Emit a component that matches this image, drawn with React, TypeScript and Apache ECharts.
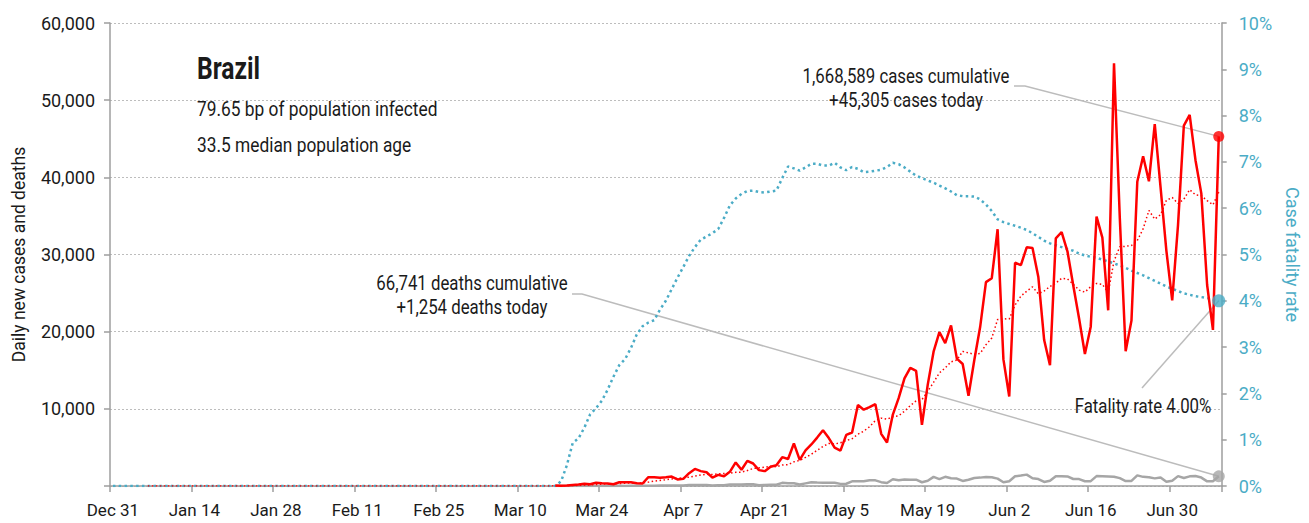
import React, { useEffect, useRef } from "react";
import * as echarts from "echarts";

// ---------- data ----------
const monthNames = ["Jan", "Feb", "Mar", "Apr", "May", "Jun", "Jul", "Aug", "Sep", "Oct", "Nov", "Dec"];
const firstDay = Date.UTC(2019, 11, 31);
const dayCount = 191; // Dec 31 .. Jul 8
const dates: string[] = [];
for (let i = 0; i < dayCount; i++) {
  const d = new Date(firstDay + i * 86400000);
  dates.push(`${monthNames[d.getUTCMonth()]} ${d.getUTCDate()}`);
}

const seriesStart = "Mar 16"; // first day of the arrays below
const avgStart = "Jan 6"; // first day of the 7-day average line

const dailyCases = [
  79, 34, 57, 137, 193, 283, 224,
  418, 345, 310, 232, 482, 502, 487,
  352, 323, 1138, 1119, 1074, 1146, 1222,
  852, 926, 1661, 2210, 1930, 1781, 1089,
  1442, 1261, 1832, 3058, 2105, 3257, 2917,
  2055, 1927, 2498, 2678, 3735, 3503, 5514,
  3379, 4613, 5385, 6276, 7218, 6209, 4970,
  4588, 6633, 6935, 10503, 9888, 10222, 10611,
  6760, 5632, 9258, 11385, 13944, 15305, 14919,
  7938, 13140, 17408, 19951, 18508, 20803, 16508,
  15813, 11687, 16324, 20599, 26417, 26928, 33274,
  16409, 11598, 28936, 28633, 30925, 30830, 27075,
  18912, 15654, 32091, 32913, 30412, 25982, 21704,
  17110, 20647, 34918, 32188, 22765, 54771, 34666,
  17459, 21432, 39436, 42725, 39483, 46907, 38693,
  30476, 24052, 33846, 46712, 48105, 42223, 37923,
  26051, 20229, 45305,
];

const cases7dAvg = [
  26, 30, 37, 54, 78, 115, 144,
  192, 237, 273, 286, 328, 359, 397,
  387, 384, 502, 629, 714, 806, 911,
  982, 1068, 1143, 1299, 1421, 1512, 1493,
  1577, 1625, 1649, 1770, 1795, 2006, 2267,
  2355, 2450, 2545, 2491, 2724, 2759, 3130,
  3319, 3703, 4115, 4629, 5127, 5513, 5436,
  5608, 5897, 6118, 6722, 7104, 7677, 8483,
  8793, 8650, 8982, 9108, 9687, 10414, 11029,
  11197, 12270, 13434, 14658, 15310, 16095, 16322,
  17447, 17240, 17085, 17177, 18307, 19182, 21577,
  21663, 21650, 23452, 24599, 25243, 25801, 24915,
  25273, 25852, 26303, 26914, 26841, 26148, 25381,
  25124, 25837, 26241, 26137, 25045, 29158, 31009,
  31059, 31171, 31817, 33322, 35710, 34587, 35162,
  37022, 37396, 36597, 37167, 38399, 37730, 37620,
  36987, 36441, 38078,
];

const dailyDeaths = [
  0, 0, 1, 2, 3, 5, 7,
  7, 9, 12, 11, 18, 15, 22,
  22, 23, 42, 40, 58, 60, 73,
  54, 67, 114, 133, 141, 115, 68,
  99, 105, 204, 204, 188, 217, 213,
  108, 125, 154, 165, 407, 357, 346,
  189, 338, 474, 449, 435, 428, 421,
  275, 296, 600, 615, 610, 751, 730,
  496, 396, 881, 749, 844, 824, 816,
  485, 674, 1179, 888, 1188, 1001, 965,
  653, 807, 1039, 1086, 1156, 1124, 956,
  480, 623, 1262, 1349, 1473, 1005, 904,
  525, 679, 1272, 1274, 1239, 909, 892,
  612, 627, 1282, 1269, 1238, 1206, 1022,
  641, 654, 1374, 1185, 1141, 990, 1109,
  552, 692, 1280, 1038, 1252, 1290, 1091,
  602, 620, 1254,
];

const cfrPct = [
  0.0, 0.1, 0.45, 0.93, 1.03, 1.26, 1.55,
  1.68, 1.84, 2.08, 2.36, 2.61, 2.74, 2.98,
  3.27, 3.45, 3.53, 3.58, 3.81, 4.0, 4.25,
  4.5, 4.73, 4.97, 5.16, 5.32, 5.39, 5.46,
  5.55, 5.79, 6.06, 6.21, 6.31, 6.37, 6.38,
  6.35, 6.34, 6.36, 6.38, 6.65, 6.9, 6.86,
  6.81, 6.88, 6.96, 6.96, 6.92, 6.92, 6.98,
  6.88, 6.82, 6.89, 6.85, 6.78, 6.79, 6.81,
  6.83, 6.89, 6.98, 6.95, 6.88, 6.79, 6.7,
  6.65, 6.6, 6.55, 6.49, 6.43, 6.36, 6.28,
  6.26, 6.26, 6.25, 6.19, 6.08, 5.94, 5.76,
  5.7, 5.66, 5.62, 5.58, 5.53, 5.46, 5.38,
  5.3, 5.24, 5.2, 5.16, 5.12, 5.08, 5.02,
  4.98, 4.95, 4.93, 4.89, 4.85, 4.81, 4.76,
  4.71, 4.65, 4.6, 4.55, 4.49, 4.43, 4.37,
  4.31, 4.26, 4.21, 4.16, 4.13, 4.1, 4.08,
  4.06, 4.03, 4.0,
];

const countryName = "Brazil";
const infectedBp = "79.65";
const medianAge = "33.5";
const totalCases = 1668589;
const totalDeaths = 66741;

// ---------- styling ----------
const FONT = "Roboto, 'Liberation Sans', sans-serif";
const RED = "#ff0000";
const BLUE = "#4bacc6";
const GRAY = "#a6a6a6";
const AXIS = "#9e9e9e";
const TEXT = "#1a1a1a";

const fmt = (v: number) => v.toLocaleString("en-US");

function pad(arr: number[], startLabel: string, fill: number | null, fillFrom = 0) {
  const s = dates.indexOf(startLabel);
  return dates.map((_, i) => (i >= s ? arr[i - s] : i >= fillFrom ? fill : null));
}

export default function App() {
  const ref = useRef<HTMLDivElement>(null);

  useEffect(() => {
    if (!ref.current) return;
    const chart = echarts.init(ref.current, null, { renderer: "svg" });
    const last = dates.length - 1;
    const casesFull = pad(dailyCases, seriesStart, null);
    const deathsFull = pad(dailyDeaths, seriesStart, null);
    const cfrFull = pad(cfrPct, seriesStart, 0);
    const avgFull = pad(cases7dAvg, seriesStart, 0, dates.indexOf(avgStart));

    const lastPoint = (arr: (number | null)[]) => dates.map((_, i) => (i === last ? arr[i] : null));

    chart.setOption({
      animation: false,
      textStyle: { fontFamily: FONT },
      grid: { left: 110, right: 87, top: 23, bottom: 37 },
      xAxis: {
        type: "category",
        data: dates,
        boundaryGap: true,
        axisLine: { show: true, lineStyle: { color: AXIS, width: 1.5 } },
        axisTick: { show: true, interval: 13, length: 6, lineStyle: { color: AXIS, width: 1.5 } },
        axisLabel: { interval: 13, color: TEXT, fontSize: 17, margin: 15, fontFamily: FONT },
        splitLine: { show: false },
      },
      yAxis: [
        {
          type: "value",
          min: 0,
          max: 60000,
          interval: 10000,
          position: "left",
          name: "Daily new cases and deaths",
          nameLocation: "middle",
          nameGap: 82,
          nameRotate: 90,
          nameTextStyle: { color: TEXT, fontSize: 17.5, fontFamily: FONT },
          axisLine: { show: true, lineStyle: { color: AXIS, width: 1.5 } },
          axisTick: { show: true, length: 6, lineStyle: { color: AXIS, width: 1.5 } },
          axisLabel: {
            color: TEXT,
            fontSize: 18,
            margin: 15,
            fontFamily: FONT,
            formatter: (v: number) => (v === 0 ? "" : fmt(v)),
          },
          splitLine: { show: true, lineStyle: { color: "#bdbdbd", type: [2, 2], width: 1 } },
        },
        {
          type: "value",
          min: 0,
          max: 10,
          interval: 1,
          position: "right",
          name: "Case fatality rate",
          nameLocation: "middle",
          nameGap: 58,
          nameRotate: -90,
          nameTextStyle: { color: BLUE, fontSize: 18, fontFamily: FONT },
          axisLine: { show: true, lineStyle: { color: AXIS, width: 1.5 } },
          axisTick: { show: true, length: 5, lineStyle: { color: AXIS, width: 1.5 } },
          axisLabel: { color: BLUE, fontSize: 18, margin: 17, fontFamily: FONT, formatter: "{value}%" },
          splitLine: { show: false },
        },
      ],
      series: [
        {
          name: "Daily deaths",
          type: "line",
          data: deathsFull,
          yAxisIndex: 0,
          showSymbol: false,
          lineStyle: { color: GRAY, width: 2.5 },
          z: 2,
        },
        {
          name: "Case fatality rate",
          type: "line",
          data: cfrFull,
          yAxisIndex: 1,
          showSymbol: false,
          lineStyle: { color: BLUE, width: 2.5, type: [2.5, 3.3] },
          z: 3,
        },
        {
          name: "7-day average cases",
          type: "line",
          data: avgFull,
          yAxisIndex: 0,
          showSymbol: false,
          lineStyle: { color: RED, width: 1.5, type: [1.5, 2.5] },
          z: 4,
        },
        {
          name: "Daily new cases",
          type: "line",
          data: casesFull,
          yAxisIndex: 0,
          showSymbol: false,
          lineStyle: { color: RED, width: 2.5 },
          z: 5,
        },
        {
          type: "scatter",
          data: lastPoint(casesFull),
          yAxisIndex: 0,
          symbolSize: 11,
          itemStyle: { color: RED },
          z: 6,
        },
        {
          type: "scatter",
          data: lastPoint(deathsFull),
          yAxisIndex: 0,
          symbolSize: 12,
          itemStyle: { color: GRAY },
          z: 6,
        },
        {
          type: "scatter",
          data: lastPoint(cfrFull),
          yAxisIndex: 1,
          symbolSize: 13,
          itemStyle: { color: BLUE },
          z: 6,
        },
      ],
    });

    const pCase = chart.convertToPixel({ xAxisIndex: 0, yAxisIndex: 0 }, [last, casesFull[last] as number]) as number[];
    const pDeath = chart.convertToPixel({ xAxisIndex: 0, yAxisIndex: 0 }, [last, deathsFull[last] as number]) as number[];
    const pCfr = chart.convertToPixel({ xAxisIndex: 0, yAxisIndex: 1 }, [last, cfrFull[last] as number]) as number[];

    const txt = (text: string, x: number, y: number, font: string, sx: number, align = "left") => ({
      type: "text",
      x,
      y,
      scaleX: sx,
      z: 10,
      style: { text, fill: TEXT, font, textAlign: align, textVerticalAlign: "middle" },
    });
    const leader = (points: number[][]) => ({
      type: "polyline",
      z: 0,
      shape: { points },
      style: { stroke: "#bcbcbc", lineWidth: 1.5, fill: null },
    });

    chart.setOption({
      graphic: [
        leader([[1014, 86], [1025, 86], pCase]),
        leader([[572, 294], [582, 294], pDeath]),
        leader([[1142, 388], pCfr]),
        txt(countryName, 197, 68, `bold 32px ${FONT}`, 0.77),
        txt(`${infectedBp} bp of population infected`, 197, 109, `21px ${FONT}`, 0.825),
        txt(`${medianAge} median population age`, 197, 145, `21px ${FONT}`, 0.825),
        txt(`${fmt(totalCases)} cases cumulative`, 906, 76, `21px ${FONT}`, 0.8, "center"),
        txt(`+${fmt(dailyCases[dailyCases.length - 1])} cases today`, 906, 100, `21px ${FONT}`, 0.8, "center"),
        txt(`${fmt(totalDeaths)} deaths cumulative`, 472, 283, `21px ${FONT}`, 0.8, "center"),
        txt(`+${fmt(dailyDeaths[dailyDeaths.length - 1])} deaths today`, 472, 307, `21px ${FONT}`, 0.8, "center"),
        txt(`Fatality rate ${cfrPct[cfrPct.length - 1].toFixed(2)}%`, 1143, 406, `21px ${FONT}`, 0.8, "center"),
      ],
    });

    return () => chart.dispose();
  }, []);

  return (
    <div
      ref={ref}
      style={{ position: "fixed", left: 0, top: 0, width: 1309, height: 523, background: "#fff" }}
    />
  );
}
